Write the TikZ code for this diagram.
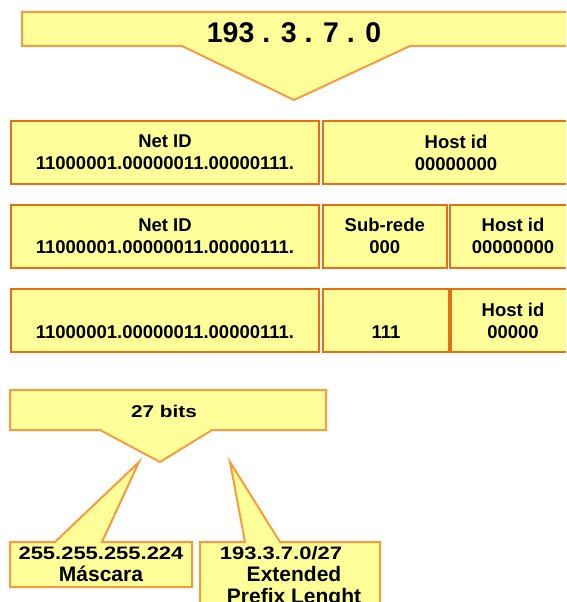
\documentclass[tikz,border=0pt]{standalone}
\usepackage{fontspec}
\setmainfont{Liberation Sans}
\usepackage{graphicx}
\usetikzlibrary{positioning}
\definecolor{NoteFill}{HTML}{FFFF99}
\definecolor{NoteLine}{HTML}{FA9A3C}
\definecolor{FieldLine}{HTML}{E66F12}
% the small labels are set a bit wider than the font
\newcommand{\widetxt}[1]{\scalebox{1.22}[1]{#1}}

\begin{document}
\begin{tikzpicture}[x=1pt,y=-1pt,
  callout/.style={draw=NoteLine,fill=NoteFill,line width=2pt,line join=miter},
  field/.style={draw=FieldLine,fill=NoteFill,line width=2pt,minimum height=63pt,
    inner sep=0pt,align=center,font=\bfseries\fontsize{18.5}{22}\selectfont},
  note/.style={align=center,inner sep=0pt,font=\bfseries\fontsize{21}{22}\selectfont}
]
\useasboundingbox (0,0) rectangle (566,602);
\clip (0,0) rectangle (566,602);

% network address
\draw[callout] (22,12) -- (580,12) -- (580,46) -- (410,46) -- (294,100) -- (182,46) -- (22,46) -- cycle;
\node[anchor=base,inner sep=0pt,font=\bfseries\fontsize{28.5}{30}\selectfont] (addr) at (294,43) {193 . 3 . 7 . 0};

% class C split
\node[field,minimum width=308pt] (net1) at (165,152.5) {Net ID\\11000001.00000011.00000111.};
\node[field,minimum width=266pt] (host1) at (456,152.5) {Host id\\00000000};

% borrowing three bits for the subnet
\node[field,minimum width=308pt] (net2) at (165,236.3) {Net ID\\11000001.00000011.00000111.};
\node[field,minimum width=123.5pt] (sub2) at (384.75,236.3) {Sub-rede\\000};
\node[field,minimum width=127pt] (host2) at (513,236.3) {Host id\\00000000};

% mask bits
\node[field,minimum width=308pt] (net3) at (165,320.8) {\vphantom{H}\\11000001.00000011.00000111.};
\node[field,minimum width=126pt] (sub3) at (386,320.8) {\vphantom{H}\\111};
\node[field,minimum width=124pt] (host3) at (513,320.8) {Host id\\00000};

% prefix length
\draw[callout] (10,390) -- (326,390) -- (326,430) -- (212,430) -- (160,462) -- (100,430) -- (10,430) -- cycle;
\node[note,font=\bfseries\fontsize{17}{20}\selectfont] (bits) at (164,411) {\widetxt{27 bits}};

\draw[callout] (10,542) -- (55,542) -- (139,462) -- (102,542) -- (192,542) -- (192,587) -- (10,587) -- cycle;
\node[note] (mask) at (101,564) {{\fontsize{18}{22}\selectfont\widetxt{255.255.255.224}}\\Máscara};

\draw[callout] (200,542) -- (245,542) -- (230,462) -- (280,542) -- (380,542) -- (380,620) -- (200,620) -- cycle;
\node[note] (prefix) at (294,577.5) {\hspace*{-26pt}{\fontsize{18}{22}\selectfont\widetxt{193.3.7.0/27}}\\Extended\\Prefix Lenght};
\end{tikzpicture}
\end{document}
